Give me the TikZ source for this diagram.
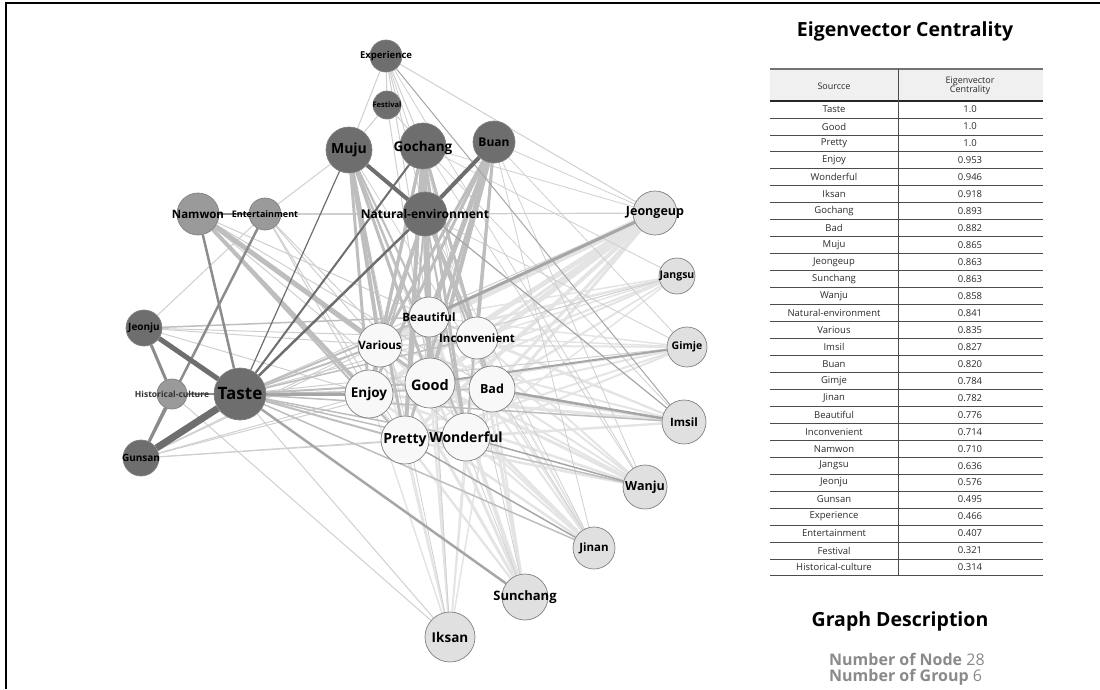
\documentclass[tikz,border=0pt]{standalone}
\usepackage{fontspec}
\setmainfont{Open Sans}
\definecolor{nDark}{HTML}{6E6E6E}
\definecolor{nMid}{HTML}{9A9A9A}
\definecolor{nWhite}{HTML}{F8F8F8}
\definecolor{nLight}{HTML}{E0E0E0}
\definecolor{eDark}{HTML}{6E6E6E}
\definecolor{eGray}{HTML}{8C8C8C}
\definecolor{eMid}{HTML}{A6A6A6}
\definecolor{eSoft}{HTML}{BEBEBE}
\definecolor{eLight}{HTML}{CFCFCF}
\definecolor{eFaint}{HTML}{E4E4E4}
\definecolor{txtGray}{HTML}{8A8A8A}
\definecolor{tabTxt}{HTML}{2A2A2A}
\pgfdeclarelayer{edges}
\pgfsetlayers{edges,main}
\tikzset{
  gnode/.style={circle, draw=black!50, line width=0.7pt, inner sep=0pt, minimum size=#1},
  lbl/.style={inner sep=0pt, font=\fontsize{#1}{#1}\selectfont\bfseries, text=black},
  tb/.style={inner sep=0pt, font=\fontsize{9.5}{10}\selectfont, text=tabTxt},
  tline/.style={draw=black!70, line width=0.8pt},
}
\begin{document}
\begin{tikzpicture}[x=1pt,y=-1pt]
\useasboundingbox (0,0) rectangle (1100,689);
\draw[line width=2pt] (6,689) -- (6,3) -- (1100,3);

% ---------- nodes ----------
\node[gnode=32, fill=nDark] (Experience) at (386,56) {};
\node[gnode=28, fill=nDark] (Festival) at (387,105) {};
\node[gnode=46, fill=nDark] (Muju) at (349,150) {};
\node[gnode=46, fill=nDark] (Gochang) at (423,146) {};
\node[gnode=42, fill=nDark] (Buan) at (494,142) {};
\node[gnode=42, fill=nMid] (Namwon) at (198,214) {};
\node[gnode=32, fill=nMid] (Entertainment) at (265,214) {};
\node[gnode=44, fill=nDark] (NE) at (425,214) {};
\node[gnode=36, fill=nDark] (Jeonju) at (144,328) {};
\node[gnode=30, fill=nMid] (Historical) at (172,394) {};
\node[gnode=52, fill=nDark] (Taste) at (240,394) {};
\node[gnode=36, fill=nDark] (Gunsan) at (141,458) {};
\node[gnode=40, fill=nWhite] (Beautiful) at (429,317) {};
\node[gnode=44, fill=nWhite] (Various) at (380,345) {};
\node[gnode=42, fill=nWhite] (Inconvenient) at (477,338) {};
\node[gnode=50, fill=nWhite] (Good) at (430,383) {};
\node[gnode=48, fill=nWhite] (Enjoy) at (369,394) {};
\node[gnode=46, fill=nWhite] (Bad) at (492,389) {};
\node[gnode=48, fill=nWhite] (Pretty) at (405,440) {};
\node[gnode=48, fill=nWhite] (Wonderful) at (466,437) {};
\node[gnode=44, fill=nLight] (Jeongeup) at (655,213) {};
\node[gnode=36, fill=nLight] (Jangsu) at (677,276) {};
\node[gnode=40, fill=nLight] (Gimje) at (687,347) {};
\node[gnode=44, fill=nLight] (Imsil) at (684,422) {};
\node[gnode=44, fill=nLight] (Wanju) at (645,487) {};
\node[gnode=42, fill=nLight] (Jinan) at (594,548) {};
\node[gnode=46, fill=nLight] (Sunchang) at (525,597) {};
\node[gnode=50, fill=nLight] (Iksan) at (450,637) {};

% ---------- labels ----------
\node[lbl=9.5] (lExperience) at (Experience) {Experience};
\node[lbl=7.5] (lFestival) at (Festival) {Festival};
\node[lbl=14] (lMuju) at (Muju) {Muju};
\node[lbl=13.5] (lGochang) at ([yshift=-2]Gochang) {Gochang};
\node[lbl=12] (lBuan) at (Buan) {Buan};
\node[lbl=11.5] (lNamwon) at (Namwon) {Namwon};
\node[lbl=9] (lEntertainment) at (Entertainment) {Entertainment};
\node[lbl=12] (lNE) at (NE) {Natural-environment};
\node[lbl=10] (lJeonju) at (Jeonju) {Jeonju};
\node[lbl=8.5, text=black!80] (lHistorical) at (Historical) {Historical-culture};
\node[lbl=17] (lTaste) at (Taste) {Taste};
\node[lbl=10] (lGunsan) at (Gunsan) {Gunsan};
\node[lbl=11.5] (lBeautiful) at (Beautiful) {Beautiful};
\node[lbl=11.5] (lVarious) at (Various) {Various};
\node[lbl=11.5] (lInconvenient) at (Inconvenient) {Inconvenient};
\node[lbl=14.5] (lGood) at ([yshift=-2]Good) {Good};
\node[lbl=13.5] (lEnjoy) at (Enjoy) {Enjoy};
\node[lbl=12.5] (lBad) at (Bad) {Bad};
\node[lbl=14] (lPretty) at (Pretty) {Pretty};
\node[lbl=14] (lWonderful) at (Wonderful) {Wonderful};
\node[lbl=12.5] (lJeongeup) at (Jeongeup) {Jeongeup};
\node[lbl=10.5] (lJangsu) at (Jangsu) {Jangsu};
\node[lbl=10.5] (lGimje) at (Gimje) {Gimje};
\node[lbl=11.5] (lImsil) at (Imsil) {Imsil};
\node[lbl=12.5] (lWanju) at (Wanju) {Wanju};
\node[lbl=11.5] (lJinan) at (Jinan) {Jinan};
\node[lbl=13] (lSunchang) at (Sunchang) {Sunchang};
\node[lbl=13.5] (lIksan) at (Iksan) {Iksan};

% ---------- edges ----------
\begin{pgfonlayer}{edges}
% faint: right-side nodes to the central words
\foreach \a/\b/\w in {
 Jeongeup/Various/7, Jeongeup/Good/5, Jeongeup/Enjoy/5, Jeongeup/Inconvenient/3, Jeongeup/Bad/3, Jeongeup/Pretty/4, Jeongeup/Wonderful/3,
 Jangsu/Various/2.5, Jangsu/Good/2, Jangsu/Enjoy/2, Jangsu/Beautiful/1.5, Jangsu/Pretty/1.5, Jangsu/Wonderful/1.5, Jangsu/Bad/1.5, Jangsu/Inconvenient/1.5,
 Gimje/Various/2, Gimje/Enjoy/2.5, Gimje/Pretty/2, Gimje/Wonderful/2, Gimje/Bad/2, Gimje/Inconvenient/1.5, Gimje/Beautiful/1.5,
 Imsil/Enjoy/3, Imsil/Good/3, Imsil/Various/2, Imsil/Pretty/2, Imsil/Wonderful/2, Imsil/Beautiful/2, Imsil/Inconvenient/2,
 Wanju/Good/3, Wanju/Enjoy/2.5, Wanju/Various/2, Wanju/Inconvenient/2, Wanju/Bad/2, Wanju/Beautiful/2, Wanju/Pretty/2.5,
 Jinan/Good/3, Jinan/Enjoy/2.5, Jinan/Various/2, Jinan/Beautiful/2, Jinan/Inconvenient/2, Jinan/Bad/2, Jinan/Wonderful/2,
 Sunchang/Good/3, Sunchang/Enjoy/2, Sunchang/Various/3, Sunchang/Beautiful/4, Sunchang/Inconvenient/3, Sunchang/Pretty/2, Sunchang/Bad/2,
 Iksan/Good/2, Iksan/Enjoy/1.5, Iksan/Various/1.5, Iksan/Beautiful/1.5, Iksan/Inconvenient/1.5, Iksan/Bad/1.5, Iksan/Pretty/1.5, Iksan/Wonderful/1.5}
 \draw[draw=eFaint, line width=\w pt] (\a) -- (\b);
% light thin lines
\foreach \a/\b/\w in {
 Experience/Muju/1, Experience/Festival/1, Experience/Gochang/1, Experience/NE/1, Experience/Jeongeup/1, Experience/Beautiful/1,
 Experience/Inconvenient/0.8, Experience/Wanju/0.8,
 Festival/Muju/1, Festival/Gochang/1, Festival/Good/1,
 Entertainment/Muju/1, Entertainment/Jeonju/1, Entertainment/NE/1.2, NE/Jeongeup/1.2,
 Entertainment/Enjoy/1, Entertainment/Good/1, Entertainment/Pretty/1, Entertainment/Various/1,
 Jeonju/Various/1, Jeonju/Inconvenient/1, Jeonju/Enjoy/1,
 Historical/Iksan/1, Historical/Enjoy/1,
 Gunsan/Various/1, Gunsan/Beautiful/1, Gunsan/Pretty/1, Gunsan/Good/1, Gunsan/Wonderful/1, Gunsan/Enjoy/1,
 Namwon/Bad/1, Namwon/Wonderful/1, Namwon/Inconvenient/1,
 Muju/Jinan/0.8, Gochang/Wanju/0.8, Gochang/Jeongeup/0.8, Buan/Jeongeup/0.8, Gochang/Jangsu/0.8, Buan/Gimje/0.8,
 Buan/Jinan/0.8, Gochang/Sunchang/0.8, Muju/Iksan/0.8, NE/Iksan/0.8, NE/Gimje/0.8, Gochang/Imsil/0.8,
 Buan/Wanju/0.8, NE/Jinan/0.8, Muju/Sunchang/0.8,
 Taste/Iksan/1, Taste/Jeongeup/1, Taste/Jangsu/1, Taste/Gimje/1}
 \draw[draw=eLight, line width=\w pt] (\a) -- (\b);
% soft gray bundles
\foreach \a/\b/\w in {
 Muju/Various/4, Muju/Enjoy/3, Muju/Good/3, Muju/Pretty/3, Muju/Beautiful/2, Muju/Wonderful/2,
 Gochang/Beautiful/6, Gochang/Good/5, Gochang/Various/3, Gochang/Pretty/4, Gochang/Wonderful/3, Gochang/Inconvenient/3, Gochang/Enjoy/3, Gochang/Bad/2,
 Buan/Beautiful/5, Buan/Good/4, Buan/Various/3, Buan/Inconvenient/3, Buan/Enjoy/3, Buan/Pretty/3, Buan/Wonderful/2,
 NE/Beautiful/3, NE/Good/3, NE/Various/3, NE/Enjoy/2, NE/Bad/2, NE/Inconvenient/3, NE/Pretty/2, NE/Wonderful/2,
 Namwon/Various/5, Namwon/Enjoy/4, Namwon/Good/3, Namwon/Pretty/2,
 Taste/Good/2, Taste/Various/2, Taste/Beautiful/2, Taste/Bad/1.5, Taste/Pretty/2, Taste/Wonderful/1.5, Taste/Inconvenient/1.5,
 Taste/Imsil/1.5, Taste/Wanju/1.5, Taste/Jinan/1.5, Jeonju/Beautiful/1.5}
 \draw[draw=eSoft, line width=\w pt] (\a) -- (\b);
% medium gray
\foreach \a/\b/\w in {
 Jeongeup/Beautiful/3, Gimje/Good/2, Imsil/Bad/2.5, Wanju/Wonderful/1.5, Jinan/Pretty/1.5,
 Taste/Enjoy/3, Taste/Sunchang/2.5, Muju/Imsil/1.2, Experience/Imsil/1}
 \draw[draw=eMid, line width=\w pt] (\a) -- (\b);
% gray
\foreach \a/\b/\w in {
 Namwon/Taste/2.5, Entertainment/Gunsan/2.5, Jeonju/Historical/3, Historical/Gunsan/3, Namwon/Entertainment/2, Historical/Taste/2}
 \draw[draw=eGray, line width=\w pt] (\a) -- (\b);
% dark
\foreach \a/\b/\w in {
 Taste/Gunsan/7, Taste/Jeonju/5, Muju/NE/4, Buan/NE/4, NE/Taste/2.5, Gochang/Taste/2, Muju/Taste/1.2}
 \draw[draw=eDark, line width=\w pt] (\a) -- (\b);
\end{pgfonlayer}

% ---------- right panel ----------
\node[inner sep=0pt, font=\fontsize{19.5}{21}\selectfont\bfseries] (title) at (905,31) {Eigenvector Centrality};
\fill[black!6] (770,69) rectangle (1043,101);
\node[tb, font=\fontsize{9}{10}\selectfont] (hsrc) at (834,86) {Sourcce};
\node[tb, font=\fontsize{9}{10}\selectfont, align=center] (hval) at (970,86) {Eigenvector\\[-1.5pt]Centrality};
\draw[draw=black!55, line width=1.4pt] (770,69) -- (1043,69);
\draw[draw=black!85, line width=1.4pt] (770,101) -- (1043,101);
\draw[draw=black!70, line width=0.9pt] (898,69) -- (898,576);
\foreach [count=\i] \n/\v in {Taste/1.0, Good/1.0, Pretty/1.0, Enjoy/0.953, Wonderful/0.946, Iksan/0.918,
 Gochang/0.893, Bad/0.882, Muju/0.865, Jeongeup/0.863, Sunchang/0.863, Wanju/0.858,
 Natural-environment/0.841, Various/0.835, Imsil/0.827, Buan/0.820, Gimje/0.784, Jinan/0.782,
 Beautiful/0.776, Inconvenient/0.714, Namwon/0.710, Jangsu/0.636, Jeonju/0.576, Gunsan/0.495,
 Experience/0.466, Entertainment/0.407, Festival/0.321, Historical-culture/0.314}
{
 \node[tb] (s\i) at (834,{101+(\i-0.5)*16.96}) {\n};
 \node[tb] (v\i) at (970,{101+(\i-0.5)*16.96}) {\v};
 \draw[tline] (770,{101+\i*16.96}) -- (1043,{101+\i*16.96});
}
\node[inner sep=0pt, font=\fontsize{19.5}{21}\selectfont\bfseries] (gdesc) at (900,621) {Graph Description};
\node[anchor=west, inner sep=0pt, text=txtGray, font=\fontsize{16}{17}\selectfont] (nnode) at (829,659) {\textbf{Number of Node} 28};
\node[anchor=west, inner sep=0pt, text=txtGray, font=\fontsize{16}{17}\selectfont] (ngroup) at (829,677) {\textbf{Number of Group} 6};
\end{tikzpicture}
\end{document}
